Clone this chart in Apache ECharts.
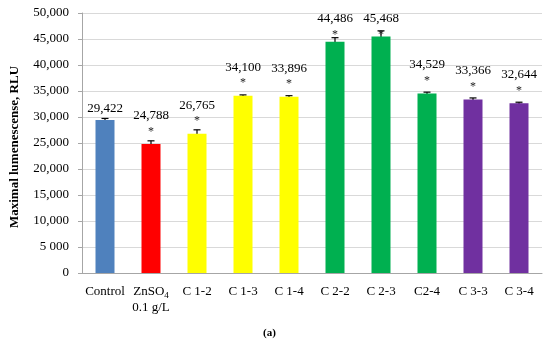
<!DOCTYPE html>
<html><head><meta charset="utf-8">
<script src="https://cdn.jsdelivr.net/npm/echarts@6/dist/echarts.min.js"></script>
<style>html,body{margin:0;padding:0;background:#fff}#c{width:550px;height:344px}</style>
</head><body><div id="c"></div>
<script>
const categories = ['Control', 'ZnSO4', 'C 1-2', 'C 1-3', 'C 1-4', 'C 2-2', 'C 2-3', 'C2-4', 'C 3-3', 'C 3-4'];
const values = [29422, 24788, 26765, 34100, 33896, 44486, 45468, 34529, 33366, 32644];
const errors = [300, 630, 770, 150, 200, 770, 1100, 250, 300, 200];
const significant = [0, 1, 1, 1, 1, 1, 1, 1, 1, 1];
const colors = ['#4f81bd', '#ff0000', '#ffff00', '#ffff00', '#ffff00', '#00b050', '#00b050', '#00b050', '#7030a0', '#7030a0'];
const yTicks = ['0', '5 000', '10,000', '15,000', '20,000', '25,000', '30,000', '35,000', '40,000', '45,000', '50,000'];

const SERIF = '"Liberation Serif", "DejaVu Serif", serif';
const chart = echarts.init(document.getElementById('c'));
chart.setOption({
  animation: false,
  grid: { left: 71, right: 8, top: 13, bottom: 71 },
  graphic: [{ type: 'text', left: 263, top: 328, style: { text: '(a)', font: 'bold 11px ' + SERIF, fill: '#000' } }],
  xAxis: {
    type: 'category', data: categories,
    axisLine: { lineStyle: { color: '#a6a6a6' } },
    axisTick: { alignWithLabel: true, interval: 0, length: 4, lineStyle: { color: '#a6a6a6' } },
    axisLabel: {
      interval: 0, margin: 11, color: '#000', fontFamily: SERIF, fontSize: 13, lineHeight: 16,
      formatter: v => v === 'ZnSO4' ? 'ZnSO{s|4}\n0.1 g/L' : v,
      rich: { s: { fontSize: 9, verticalAlign: 'bottom', padding: [6, 0, 0, 0], fontFamily: SERIF, color: '#000' } }
    }
  },
  yAxis: {
    type: 'value', min: 0, max: 50000, interval: 5000,
    name: 'Maximal lumenescense, RLU', nameLocation: 'middle', nameGap: 61,
    nameTextStyle: { fontFamily: SERIF, fontWeight: 'bold', fontSize: 13, color: '#000', padding: [0, 8, 0, 0] },
    axisLine: { show: true, lineStyle: { color: '#a6a6a6' } },
    axisTick: { show: true, length: 4, lineStyle: { color: '#a6a6a6' } },
    splitLine: { lineStyle: { color: '#d9d9d9' } },
    axisLabel: { margin: 13, color: '#000', fontFamily: SERIF, fontSize: 13,
      formatter: (v) => yTicks[Math.round(v / 5000)] }
  },
  series: [{
    type: 'bar', barWidth: 19,
    data: values.map((v, i) => ({ value: v, itemStyle: { color: colors[i] } }))
  }, {
    type: 'custom',
    data: values.map((v, i) => [i, v, errors[i], significant[i]]),
    renderItem: (params, api) => {
      const i = api.value(0), v = api.value(1), e = api.value(2), s = api.value(3);
      const top = api.coord([i, v + e]), bot = api.coord([i, v - e]), mid = api.coord([i, v]);
      const x = top[0], w = 3.5;
      const ls = { stroke: '#000', lineWidth: 1.2 };
      const children = [
        { type: 'line', shape: { x1: x, y1: top[1], x2: x, y2: bot[1] }, style: ls },
        { type: 'line', shape: { x1: x - w, y1: top[1], x2: x + w, y2: top[1] }, style: ls },
        { type: 'line', shape: { x1: x - w, y1: bot[1], x2: x + w, y2: bot[1] }, style: ls }
      ];
      let lc;
      if (s) {
        lc = Math.max(mid[1] - 29, 18);
        const sc = lc + 14.5;
        children.push({ type: 'text', style: { text: '*', x: x, y: sc + 8, align: 'center', verticalAlign: 'bottom', font: '12px ' + SERIF, fill: '#222' } });
      } else {
        lc = mid[1] - 12;
      }
      children.push({ type: 'text', style: { text: v.toLocaleString('en-US'), x: x, y: lc + 7, align: 'center', verticalAlign: 'bottom', font: '13px ' + SERIF, fill: '#000' } });
      return { type: 'group', children };
    }
  }]
});
</script></body></html>
